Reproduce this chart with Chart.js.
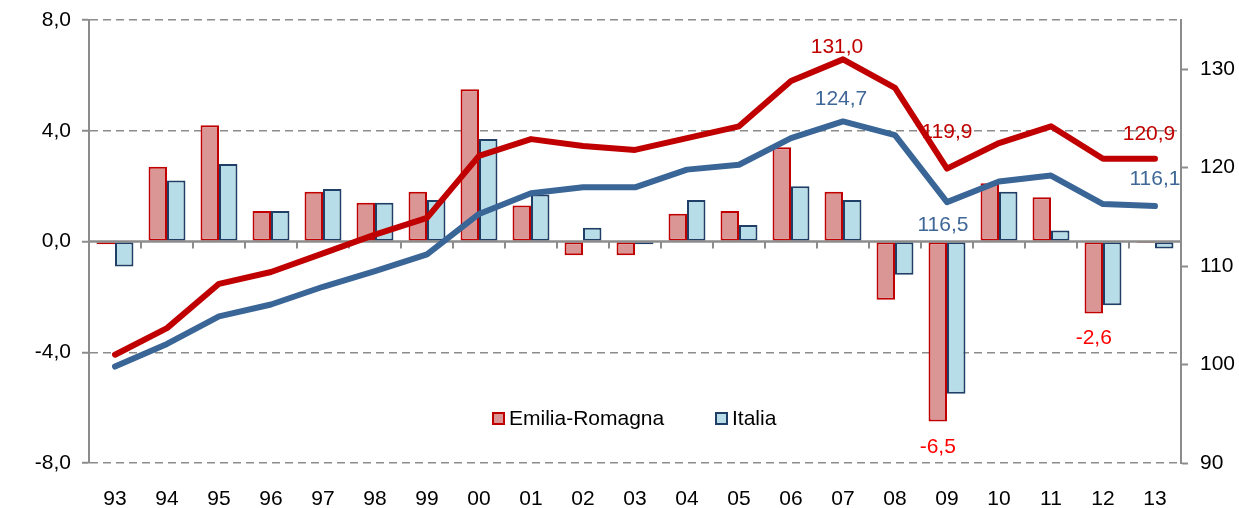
<!DOCTYPE html>
<html>
<head>
<meta charset="utf-8">
<script src="https://cdn.jsdelivr.net/npm/chart.js@4/dist/chart.umd.min.js"></script>
<style>
  html, body { margin: 0; padding: 0; background: #fff; }
  #chart { display: block; }
</style>
</head>
<body>
<canvas id="chart" width="1239" height="508"></canvas>
<script>
// Years and series
const years = ["93", "94", "95", "96", "97", "98", "99", "00", "01", "02", "03",
  "04", "05", "06", "07", "08", "09", "10", "11", "12", "13"];

// growth rates (left axis, bars)
const erGrowth = [-0.1, 2.7, 4.2, 1.1, 1.8, 1.4, 1.8, 5.5, 1.3, -0.5, -0.5,
  1.0, 1.1, 3.4, 1.8, -2.1, -6.5, 2.1, 1.6, -2.6, -0.05];
const itGrowth = [-0.9, 2.2, 2.8, 1.1, 1.9, 1.4, 1.5, 3.7, 1.7, 0.5, -0.1,
  1.5, 0.6, 2.0, 1.5, -1.2, -5.5, 1.8, 0.4, -2.3, -0.25];

// index levels (right axis, lines)
const erIndex = [101.0, 103.7, 108.2, 109.4, 111.3, 113.2, 114.9, 121.2, 122.9, 122.2, 121.8,
  123.0, 124.2, 128.8, 131.0, 128.1, 119.9, 122.5, 124.2, 120.9, 120.9];
const itIndex = [99.8, 102.1, 104.9, 106.1, 107.9, 109.5, 111.2, 115.3, 117.4, 118.0, 118.0,
  119.8, 120.3, 123.0, 124.7, 123.3, 116.5, 118.6, 119.2, 116.3, 116.1];

const leftTicks = [-8, -4, 0, 4, 8];
const rightTicks = [90, 100, 110, 120, 130];

// value labels: dataset index, point index, offset from the mark
const valueLabels = [
  { ds: 2, i: 14, dx: -6, dy: -12, color: "#C00000" },
  { ds: 3, i: 14, dx: -2, dy: -22, color: "#3F6797" },
  { ds: 2, i: 16, dx: 0, dy: -36, color: "#C00000" },
  { ds: 3, i: 16, dx: -4, dy: 23, color: "#3F6797" },
  { ds: 2, i: 20, dx: -6, dy: -25, color: "#C00000" },
  { ds: 3, i: 20, dx: 0, dy: -27, color: "#3F6797" },
  { ds: 0, i: 16, dx: 0, dy: 26, color: "#FF0000" },
  { ds: 0, i: 19, dx: 0, dy: 25, color: "#FF0000" }
];

const fmt = v => v.toFixed(1).replace(".", ",");
const FONT = "'Liberation Sans', Arial, sans-serif";
const FSIZE = 21;
const GREY = "#8C8C8C";

Chart.defaults.font.family = FONT;
Chart.defaults.font.size = FSIZE;
Chart.defaults.color = "#000";

// zero axis with category ticks, drawn over the bars and under the lines
const zeroAxis = {
  id: "zeroAxis",
  beforeDraw(chart) { chart.$zeroDone = false; },
  beforeDatasetDraw(chart, args) {
    if (args.meta.type !== "line" || chart.$zeroDone) return;
    chart.$zeroDone = true;
    const { ctx, chartArea } = chart;
    const x = chart.scales.x, y = chart.scales.y;
    const y0 = y.getPixelForValue(0);
    ctx.save();
    ctx.strokeStyle = GREY;
    ctx.lineWidth = 2.5;
    ctx.beginPath();
    ctx.moveTo(chartArea.left, y0);
    ctx.lineTo(chartArea.right, y0);
    ctx.stroke();
    ctx.lineWidth = 2;
    ctx.beginPath();
    for (let i = 0; i < years.length - 1; i++) {
      const bx = (x.getPixelForValue(i) + x.getPixelForValue(i + 1)) / 2;
      ctx.moveTo(bx, y0);
      ctx.lineTo(bx, y0 + 7);
    }
    ctx.stroke();
    ctx.restore();
  }
};

// value labels and the in-plot legend
const labelsAndLegend = {
  id: "labelsAndLegend",
  afterDatasetsDraw(chart) {
    const ctx = chart.ctx;
    ctx.save();
    ctx.font = FSIZE + "px " + FONT;
    ctx.textAlign = "center";
    ctx.textBaseline = "middle";
    valueLabels.forEach(l => {
      const el = chart.getDatasetMeta(l.ds).data[l.i];
      const v = chart.data.datasets[l.ds].data[l.i];
      ctx.fillStyle = l.color;
      ctx.fillText(fmt(v), el.x + l.dx, el.y + l.dy);
    });

    // legend for the bar series
    const items = [
      { text: chart.data.datasets[0].label, fill: "#D99694", stroke: "#C00000", x: 493 },
      { text: chart.data.datasets[1].label, fill: "#B7DEE8", stroke: "#1F3F66", x: 716 }
    ];
    const ly = 419;
    ctx.textAlign = "left";
    items.forEach(it => {
      ctx.fillStyle = it.fill;
      ctx.fillRect(it.x, ly - 6, 11, 11);
      ctx.strokeStyle = it.stroke;
      ctx.lineWidth = 2;
      ctx.strokeRect(it.x, ly - 6, 11, 11);
      ctx.fillStyle = "#000";
      ctx.fillText(it.text, it.x + 16, ly);
    });
    ctx.restore();
  }
};

// fixed axis sizes so the plot area sits where it should
const fixWidth = w => s => {
  s.width = w;
  s.paddingTop = 0;
  s.paddingBottom = 0;
};

new Chart(document.getElementById("chart"), {
  data: {
    labels: years,
    datasets: [
      {
        type: "bar",
        label: "Emilia-Romagna",
        data: erGrowth,
        yAxisID: "y",
        backgroundColor: "#D99694",
        borderColor: "#C00000",
        borderWidth: 2,
        borderSkipped: false,
        categoryPercentage: 0.71,
        barPercentage: 1.0,
        order: 2
      },
      {
        type: "bar",
        label: "Italia",
        data: itGrowth,
        yAxisID: "y",
        backgroundColor: "#B7DEE8",
        borderColor: "#1F3F66",
        borderWidth: 2,
        borderSkipped: false,
        categoryPercentage: 0.71,
        barPercentage: 1.0,
        order: 2
      },
      {
        type: "line",
        label: "Emilia-Romagna indice",
        data: erIndex,
        yAxisID: "y1",
        borderColor: "#C00000",
        borderWidth: 6,
        pointRadius: 0,
        tension: 0,
        borderCapStyle: "round",
        borderJoinStyle: "round",
        order: 1
      },
      {
        type: "line",
        label: "Italia indice",
        data: itIndex,
        yAxisID: "y1",
        borderColor: "#3A6597",
        borderWidth: 6,
        pointRadius: 0,
        tension: 0,
        borderCapStyle: "round",
        borderJoinStyle: "round",
        order: 1
      }
    ]
  },
  options: {
    responsive: false,
    devicePixelRatio: 1,
    animation: false,
    layout: { padding: { top: 20 } },
    plugins: {
      legend: { display: false },
      tooltip: { enabled: false }
    },
    scales: {
      x: {
        offset: true,
        grid: { display: false, drawTicks: false },
        border: { display: false },
        ticks: { padding: 24, color: "#000" },
        afterFit: s => { s.height = 45; }
      },
      y: {
        position: "left",
        min: leftTicks[0],
        max: leftTicks[leftTicks.length - 1],
        afterBuildTicks: s => { s.ticks = leftTicks.map(v => ({ value: v })); },
        ticks: { callback: v => fmt(v), padding: 11, color: "#000" },
        grid: {
          color: c => (c.tick && c.tick.value === 0 ? "rgba(0,0,0,0)" : GREY),
          lineWidth: 1.5,
          tickColor: GREY,
          tickLength: 7,
          tickWidth: 2
        },
        border: { color: GREY, width: 2, dash: [8, 5] },
        afterFit: fixWidth(89)
      },
      y1: {
        position: "right",
        min: 90,
        max: 135,
        afterBuildTicks: s => { s.ticks = rightTicks.map(v => ({ value: v })); },
        ticks: { padding: 12, color: "#000" },
        grid: { drawOnChartArea: false, color: GREY, tickLength: 7, tickWidth: 2 },
        border: { color: GREY, width: 2 },
        afterFit: fixWidth(58)
      }
    }
  },
  plugins: [zeroAxis, labelsAndLegend]
});
</script>
</body>
</html>
